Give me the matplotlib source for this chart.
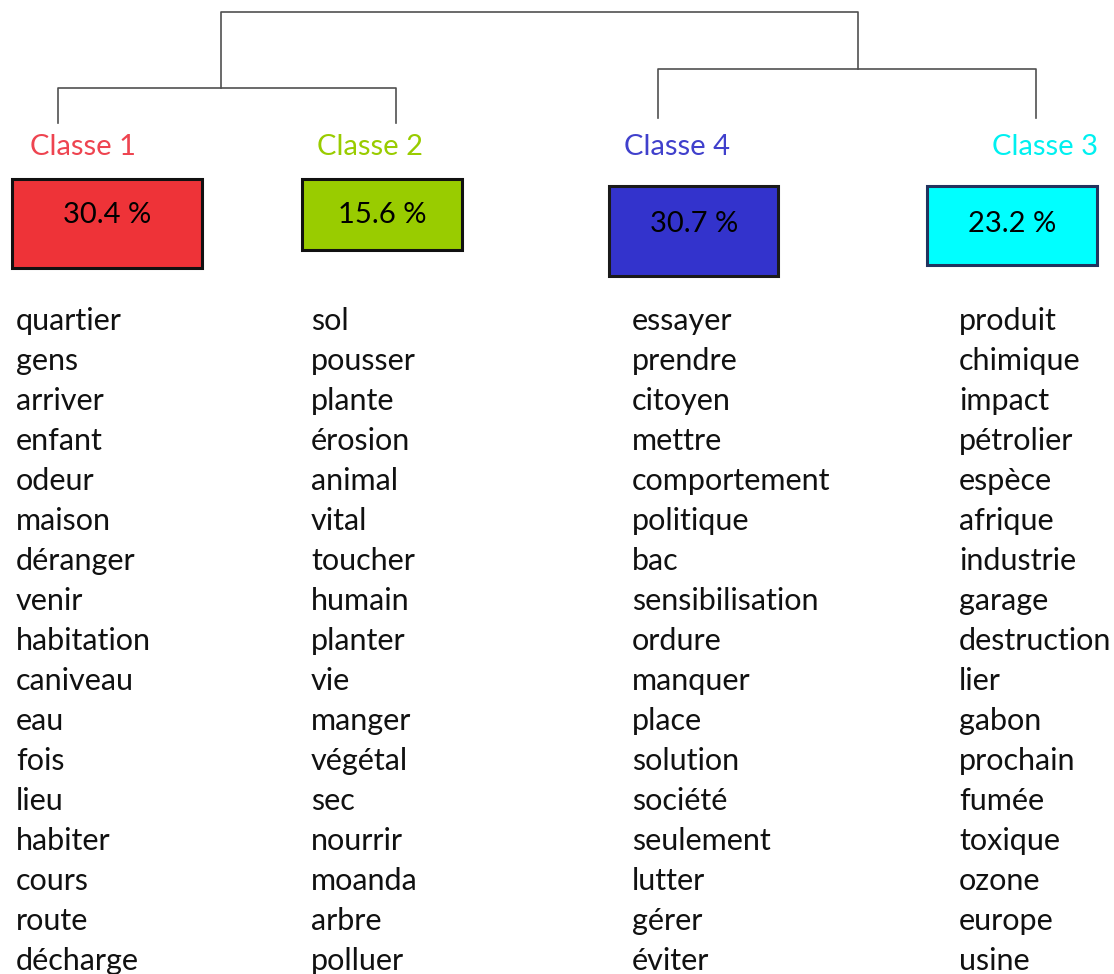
import matplotlib
matplotlib.use("Agg")
import matplotlib.pyplot as plt
from matplotlib.patches import Rectangle

plt.rcParams['font.family'] = ['Lato', 'DejaVu Sans']

# classes, left to right as drawn
classes = ['Classe 1', 'Classe 2', 'Classe 4', 'Classe 3']
percents = [30.4, 15.6, 30.7, 23.2]
box_colors = ['#ee3338', '#99cc00', '#3333cc', '#00ffff']
label_colors = ['#ee4450', '#99cc00', '#4040cc', '#00f0f0']

words1 = ['quartier', 'gens', 'arriver', 'enfant', 'odeur', 'maison', 'déranger',
          'venir', 'habitation', 'caniveau', 'eau', 'fois', 'lieu', 'habiter',
          'cours', 'route', 'décharge']
words2 = ['sol', 'pousser', 'plante', 'érosion', 'animal', 'vital', 'toucher',
          'humain', 'planter', 'vie', 'manger', 'végétal', 'sec', 'nourrir',
          'moanda', 'arbre', 'polluer']
words4 = ['essayer', 'prendre', 'citoyen', 'mettre', 'comportement', 'politique',
          'bac', 'sensibilisation', 'ordure', 'manquer', 'place', 'solution',
          'société', 'seulement', 'lutter', 'gérer', 'éviter']
words3 = ['produit', 'chimique', 'impact', 'pétrolier', 'espèce', 'afrique',
          'industrie', 'garage', 'destruction', 'lier', 'gabon', 'prochain',
          'fumée', 'toxique', 'ozone', 'europe', 'usine']
word_lists = [words1, words2, words4, words3]

W, H = 1114, 974
fig = plt.figure(figsize=(W / 100, H / 100), dpi=100)
ax = fig.add_axes([0, 0, 1, 1])
ax.set_xlim(0, W)
ax.set_ylim(H, 0)
ax.axis('off')

# dendrogram (pixel layout)
lc = '#505050'
def link(x1, x2, y_join, y1_end, y2_end):
    ax.plot([x1, x1, x2, x2], [y1_end, y_join, y_join, y2_end], color=lc, lw=1.2)

link(58, 396, 88, 123, 123)
link(658, 1036, 69, 118, 118)
link(221, 858, 12, 88, 69)

label_x = [30, 317, 624, 992]
boxes = [(12, 179, 190, 89), (302, 179, 160, 71), (609, 186, 169, 90), (927, 186, 170, 79)]
edge_colors = ['#111111', '#111111', '#1a1a1a', '#22335e']
pct_y = [223, 223, 232, 232]
pct_x = [107, 382, 694, 1012]
col_x = [16, 311, 632, 959]

for i in range(4):
    ax.text(label_x[i], 155, classes[i], color=label_colors[i], fontsize=21,
            ha='left', va='baseline')
    bx, by, bw, bh = boxes[i]
    ax.add_patch(Rectangle((bx, by), bw, bh, facecolor=box_colors[i],
                           edgecolor=edge_colors[i], lw=2.2))
    ax.text(pct_x[i], pct_y[i], f'{percents[i]} %', fontsize=21, ha='center',
            va='baseline', color='black')
    for j, w in enumerate(word_lists[i]):
        ax.text(col_x[i], 330 + 40 * j, w, fontsize=22, ha='left',
                va='baseline', color='#111111')

fig.savefig('out.png', dpi=100)
